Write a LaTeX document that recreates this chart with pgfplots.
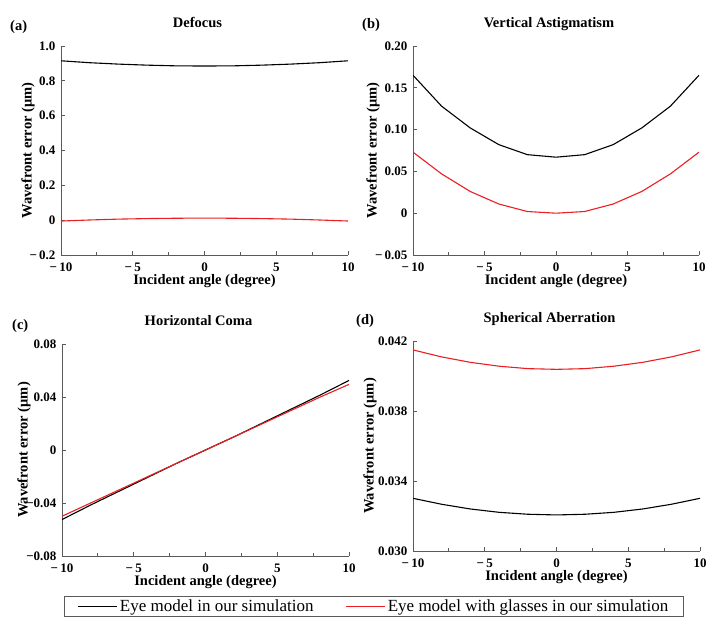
\documentclass[border=0pt]{standalone}
\usepackage{fontspec}
\setmainfont{Liberation Serif}
\usepackage{pgfplots}
\pgfplotsset{compat=1.18}
\definecolor{axgray}{RGB}{90,90,90}
\definecolor{myred}{RGB}{235,30,35}
\pgfplotsset{
  panel/.style={
    scale only axis,
    anchor=south west,
    xmin=-10, xmax=10,
    xtick={-10,-5,0,5,10},
    xticklabels={−\,10,−\,5,0,5,10},
    scaled y ticks=false, scaled x ticks=false,
    minor x tick num=1,
    axis x line*=bottom, axis y line*=left,
    axis line style={-, draw=axgray, line width=0.9pt},
    tick style={draw=axgray, line width=0.8pt},
    tick align=inside,
    major tick length=4pt, minor tick length=2.5pt,
    ticklabel style={font=\fontsize{13}{14}\selectfont\bfseries},
    xticklabel style={anchor=base, yshift=-17pt},
    yticklabel style={anchor=east, xshift=-2pt},
    xlabel={Incident angle (degree)},
    ylabel={Wavefront error (μm)},
    label style={font=\fontsize{14.5}{16}\selectfont\bfseries},
    xlabel style={at={(rel axis cs:0.5,0)}, anchor=base, yshift=-30pt},
    title style={font=\fontsize{14.5}{16}\selectfont\bfseries, at={(rel axis cs:0.5,1)}, anchor=base, yshift=12pt, xshift=-7pt},
    every axis plot/.append style={line width=1.1pt, no marks},
  }
}
\begin{document}
\begin{tikzpicture}
\useasboundingbox (0pt,0pt) rectangle (723pt,626pt);
% (a)
\begin{axis}[panel, at={(61pt,371pt)}, width=287pt, height=209pt,
  ymin=-0.2, ymax=1.0, ytick={-0.2,0,0.2,0.4,0.6,0.8,1.0},
  yticklabels={−\,0.2,0,0.2,0.4,0.6,0.8,1.0},
  title={Defocus},
  ylabel style={at={(axis description cs:-0.115,0.5)}, anchor=center}]
\addplot[black] coordinates {(-10,0.915) (-8,0.904) (-6,0.896) (-4,0.890) (-2,0.886) (0,0.885) (2,0.886) (4,0.890) (6,0.896) (8,0.904) (10,0.915)};
\addplot[myred] coordinates {(-10,-0.005) (-8,0.001) (-6,0.006) (-4,0.009) (-2,0.011) (0,0.012) (2,0.011) (4,0.009) (6,0.006) (8,0.001) (10,-0.005)};
\end{axis}
% (b)
\begin{axis}[panel, at={(413pt,371pt)}, width=286pt, height=209pt,
  ymin=-0.05, ymax=0.20, ytick={-0.05,0,0.05,0.10,0.15,0.20},
  yticklabels={−\,0.05,0,0.05,0.10,0.15,0.20},
  title={Vertical Astigmatism},
  ylabel style={at={(axis description cs:-0.140,0.5)}, anchor=center}]
\addplot[black] coordinates {(-10,0.165) (-8,0.128) (-6,0.102) (-4,0.082) (-2,0.070) (0,0.067) (2,0.070) (4,0.082) (6,0.102) (8,0.128) (10,0.165)};
\addplot[myred] coordinates {(-10,0.073) (-8,0.047) (-6,0.026) (-4,0.011) (-2,0.002) (0,0.0) (2,0.002) (4,0.011) (6,0.026) (8,0.047) (10,0.073)};
\end{axis}
% (c)
\begin{axis}[panel, at={(62pt,70pt)}, width=287pt, height=212pt,
  ymin=-0.08, ymax=0.08, ytick={-0.08,-0.04,0,0.04,0.08},
  yticklabels={−0.08,−0.04,0,0.04,0.08},
  title={Horizontal Coma},
  ylabel style={at={(axis description cs:-0.132,0.5)}, anchor=center},
  legend columns=2,
  legend style={at={(axis description cs:1.087,-0.238)}, anchor=center,
    draw=axgray, line width=0.8pt, inner xsep=13pt, inner ysep=1pt,
    font=\fontsize{17}{18}\selectfont,
    /tikz/every even column/.append style={column sep=30pt}},
  legend image code/.code={\draw[#1, line width=1.3pt] (0pt,0pt) -- (39pt,0pt);}]
\addplot[black] coordinates {(-10,-0.0525) (-8,-0.0415) (-6,-0.031) (-4,-0.0205) (-2,-0.010) (0,0) (2,0.010) (4,0.0205) (6,0.031) (8,0.0415) (10,0.0525)};
\addlegendentry{Eye model in our simulation}
\addplot[myred] coordinates {(-10,-0.050) (-8,-0.040) (-6,-0.030) (-4,-0.020) (-2,-0.010) (0,0) (2,0.010) (4,0.020) (6,0.030) (8,0.040) (10,0.0495)};
\addlegendentry{Eye model with glasses in our simulation}
\end{axis}
% (d)
\begin{axis}[panel, at={(413pt,75pt)}, width=287pt, height=210pt,
  ymin=0.030, ymax=0.042, ytick={0.030,0.034,0.038,0.042},
  yticklabels={0.030,0.034,0.038,0.042},
  title={Spherical Aberration},
  ylabel style={at={(axis description cs:-0.150,0.5)}, anchor=center}]
\addplot[black] coordinates {(-10,0.03301) (-8,0.03267) (-6,0.03240) (-4,0.03221) (-2,0.03210) (0,0.03206) (2,0.03210) (4,0.03221) (6,0.03240) (8,0.03267) (10,0.03301)};
\addplot[myred] coordinates {(-10,0.04149) (-8,0.04109) (-6,0.04078) (-4,0.04056) (-2,0.04042) (0,0.04038) (2,0.04042) (4,0.04056) (6,0.04078) (8,0.04109) (10,0.04149)};
\end{axis}
% panel labels
\node[anchor=base west, font=\fontsize{14.5}{16}\selectfont\bfseries, inner sep=0pt] at (10pt,595pt) {(a)};
\node[anchor=base west, font=\fontsize{14.5}{16}\selectfont\bfseries, inner sep=0pt] at (362pt,597pt) {(b)};
\node[anchor=base west, font=\fontsize{14.5}{16}\selectfont\bfseries, inner sep=0pt] at (12pt,296pt) {(c)};
\node[anchor=base west, font=\fontsize{14.5}{16}\selectfont\bfseries, inner sep=0pt] at (356pt,301pt) {(d)};
\end{tikzpicture}
\end{document}
